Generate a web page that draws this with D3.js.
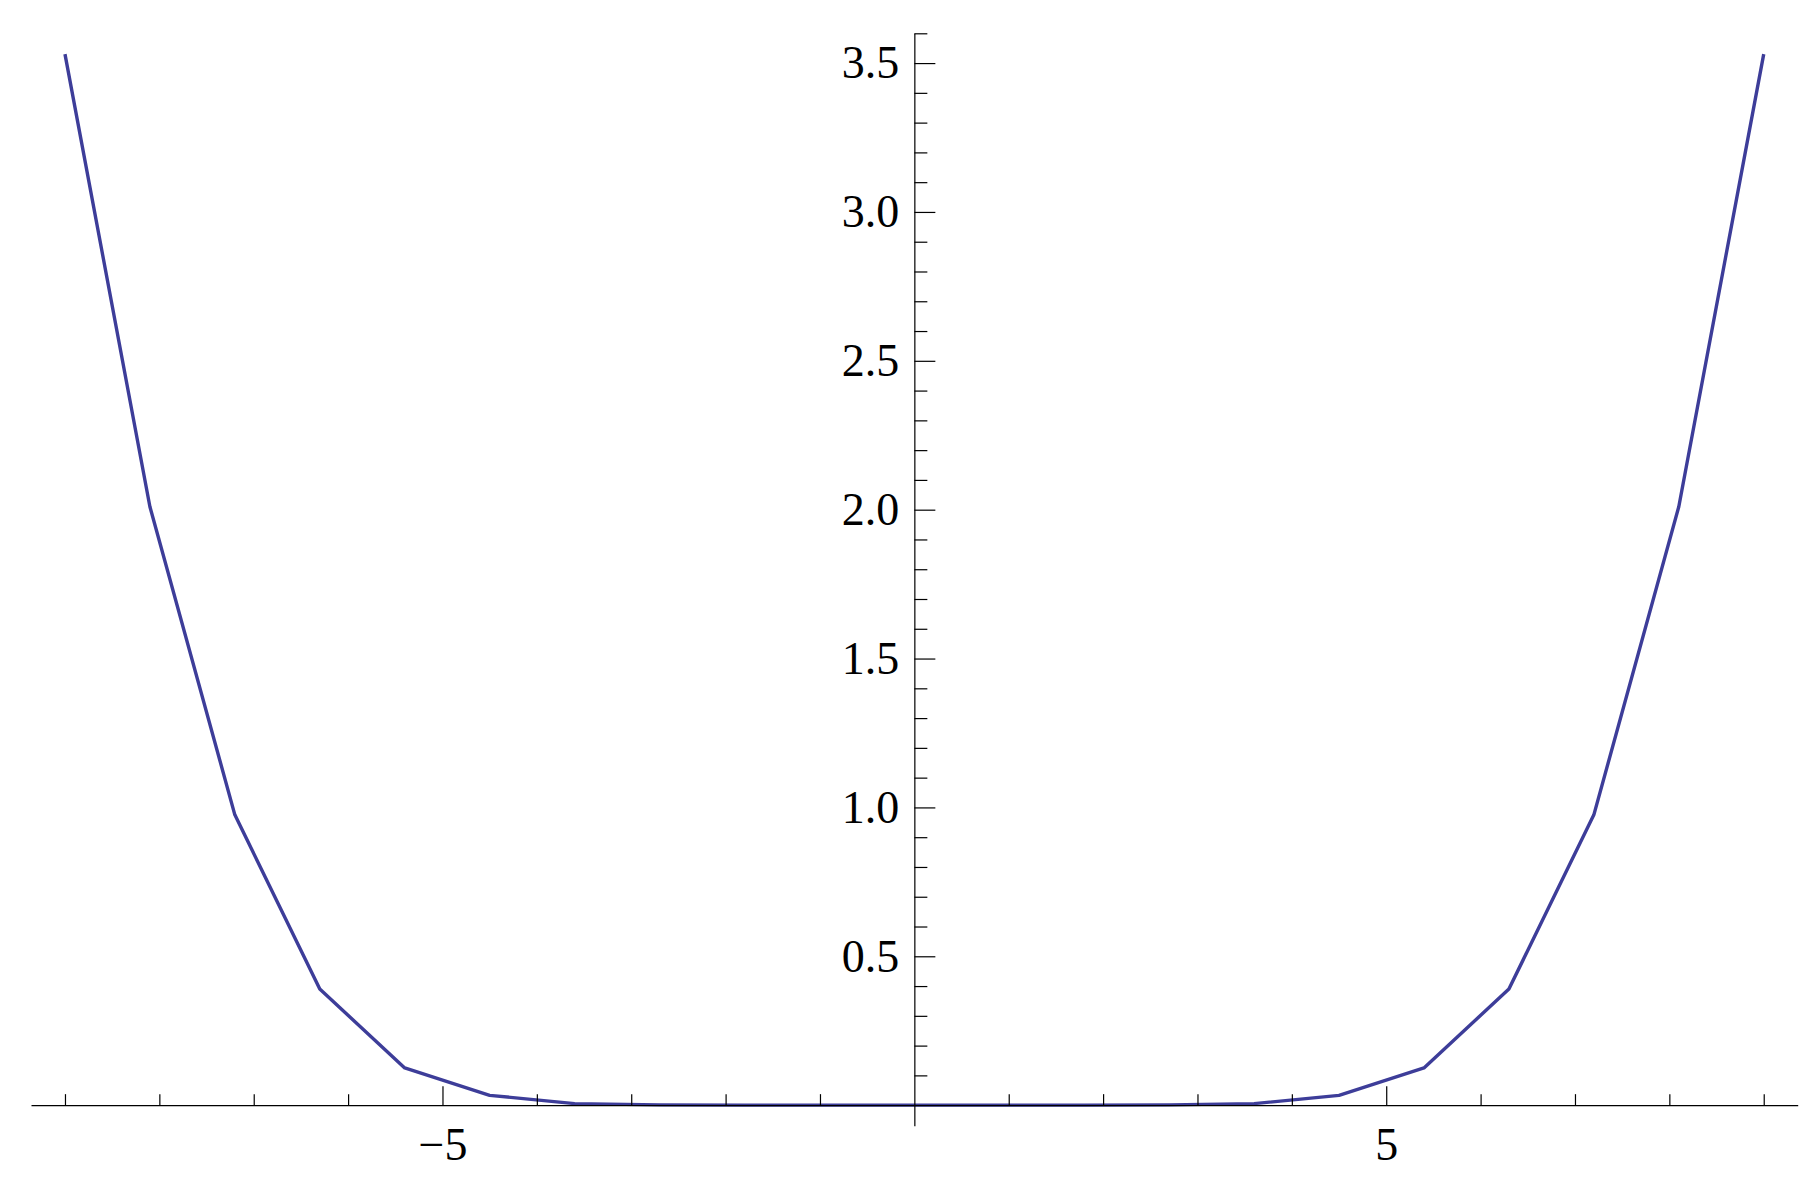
<!DOCTYPE html>
<html>
<head>
<meta charset="utf-8">
<script src="https://cdn.jsdelivr.net/npm/d3@7"></script>
<style>
  body { margin: 0; background: #fff; }
  .axis text { font-family: 'Liberation Serif', 'Times New Roman', serif; font-size: 46px; fill: #000; }
  .axis path, .axis line { stroke: #000; stroke-width: 1.2; }
</style>
</head>
<body>
<div id="chart"></div>
<script>
var xValues = [-9, -8.1, -7.2, -6.3, -5.4, -4.5, -3.6, -2.7, -1.8, -0.9, 0,
  0.9, 1.8, 2.7, 3.6, 4.5, 5.4, 6.3, 7.2, 8.1, 9];
var yValues = [3.53, 2.01, 0.975, 0.39, 0.125, 0.033, 0.005, 0.0008, 0, 0, 0,
  0, 0, 0.0008, 0.005, 0.033, 0.125, 0.39, 0.975, 2.01, 3.53];

var xMajorTicks = [-5, 5];
var xMinorTicks = [-9, -8, -7, -6, -4, -3, -2, -1, 1, 2, 3, 4, 6, 7, 8, 9];
var yMajorTicks = [0.5, 1.0, 1.5, 2.0, 2.5, 3.0, 3.5];
var yMinorTicks = [0.1, 0.2, 0.3, 0.4, 0.6, 0.7, 0.8, 0.9, 1.1, 1.2, 1.3, 1.4,
  1.6, 1.7, 1.8, 1.9, 2.1, 2.2, 2.3, 2.4, 2.6, 2.7, 2.8, 2.9, 3.1, 3.2, 3.3, 3.4, 3.6];

(function(d3) {
  'use strict';
  var width = 1817;
  var height = 1180;

  var svg = d3.select('#chart')
    .append('svg')
    .attr('width', width)
    .attr('height', height);

  var x = d3.scaleLinear()
    .domain([-9.36, 9.36])
    .range([31, 1797.7]);
  var y = d3.scaleLinear()
    .domain([-0.069, 3.6])
    .range([1125.7, 33.3]);

  var points = xValues.map(function(d, i) {
    return [d, yValues[i]];
  });

  var line = d3.line()
    .x(function(d) { return x(d[0]); })
    .y(function(d) { return y(d[1]); });

  svg.append('path')
    .datum(points)
    .attr('d', line)
    .attr('fill', 'none')
    .attr('stroke', '#3d3d99')
    .attr('stroke-width', 3.4)
    .attr('stroke-linejoin', 'round');

  // x axis: ticks point up, labels below
  svg.append('g')
    .attr('class', 'axis')
    .attr('transform', 'translate(0,' + y(0) + ')')
    .call(d3.axisBottom(x)
      .tickValues(xMinorTicks)
      .tickSizeInner(-11)
      .tickSizeOuter(0)
      .tickFormat(''));
  var xMajor = svg.append('g')
    .attr('class', 'axis')
    .attr('transform', 'translate(0,' + y(0) + ')')
    .call(d3.axisBottom(x)
      .tickValues(xMajorTicks)
      .tickSizeInner(-19)
      .tickSizeOuter(0)
      .tickPadding(22)
      .tickFormat(d3.format('d')));
  xMajor.select('.domain').remove();

  // y axis: ticks point right, labels left
  svg.append('g')
    .attr('class', 'axis')
    .attr('transform', 'translate(' + x(0) + ',0)')
    .call(d3.axisLeft(y)
      .tickValues(yMinorTicks)
      .tickSizeInner(-13)
      .tickSizeOuter(0)
      .tickFormat(''));
  var yMajor = svg.append('g')
    .attr('class', 'axis')
    .attr('transform', 'translate(' + x(0) + ',0)')
    .call(d3.axisLeft(y)
      .tickValues(yMajorTicks)
      .tickSizeInner(-21)
      .tickSizeOuter(0)
      .tickPadding(15)
      .tickFormat(d3.format('.1f')));
  yMajor.select('.domain').remove();

  svg.selectAll('.axis text').attr('font-family', null).attr('font-size', null);
})(window.d3);
</script>
</body>
</html>
